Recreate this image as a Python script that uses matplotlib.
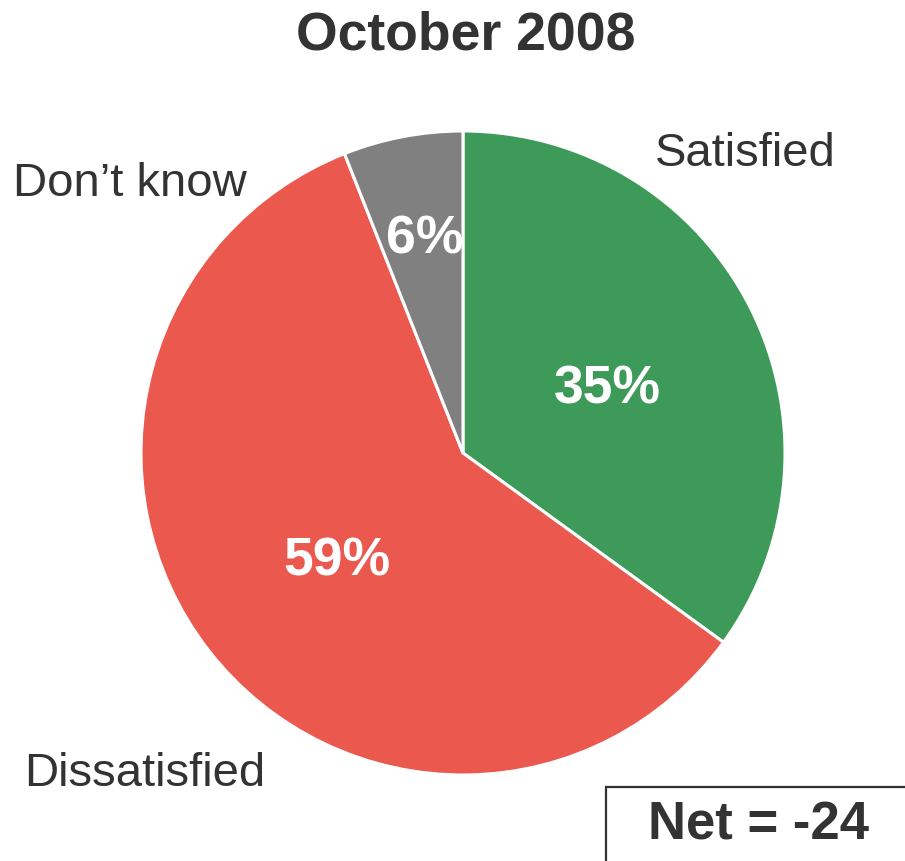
import matplotlib
matplotlib.use("Agg")
import matplotlib.pyplot as plt
import matplotlib.transforms as mtransforms
import numpy as np

categories = ["Satisfied", "Dissatisfied", "Don\u2019t know"]
values = [35, 59, 6]
colors = ["#3d9a59", "#eb594e", "#808080"]
title = "October 2008"
net_label = "Net = -24"

plt.rcParams['font.family'] = ['Liberation Sans', 'DejaVu Sans']
W, H = 905, 861
fig = plt.figure(figsize=(W / 100, H / 100), dpi=100)
cx, cy, R = 463, 453, 322
ax = fig.add_axes([(cx - R) / W, (H - cy - R) / H, 2 * R / W, 2 * R / H])
ax.axis('off')

wedges, _ = ax.pie(values, colors=colors, startangle=90, counterclock=False,
                   radius=1, wedgeprops=dict(edgecolor='white', linewidth=2.2))
ax.set_xlim(-1, 1)
ax.set_ylim(-1, 1)
ax.set_aspect('equal')

# percentage labels
pct_dist = [0.49, 0.51, 0.70]
shift = mtransforms.ScaledTranslation(4 / 100, -8 / 100, fig.dpi_scale_trans)
for w, v, d in zip(wedges, values, pct_dist):
    ang = np.deg2rad((w.theta1 + w.theta2) / 2)
    ax.text(d * np.cos(ang), d * np.sin(ang), f"{v}%", ha='center', va='center',
            color='white', fontsize=38.5, fontweight='bold',
            transform=ax.transData + shift)

# category labels (pixel positions -> data coords)
label_px = [(745, 154), (145, 774), (130, 184)]
for name, (px, py) in zip(categories, label_px):
    ax.text((px - cx) / R, (cy - py) / R, name, ha='center', va='center',
            color='#333333', fontsize=34, clip_on=False)

fig.text(466 / W, 1 - 35 / H, title, ha='center', va='center',
         fontsize=38.5, fontweight='bold', color='#333333')

# Net box
fig.text(759 / W, 1 - 826 / H, net_label, ha='center', va='center',
         fontsize=38, fontweight='bold', color='#333333')
box = plt.Rectangle((606 / W, -0.01), 0.5, (861 - 787) / H + 0.01,
                    transform=fig.transFigure, fill=False, edgecolor='#333333',
                    linewidth=1.6)
fig.add_artist(box)

fig.savefig("out.png", dpi=100)
